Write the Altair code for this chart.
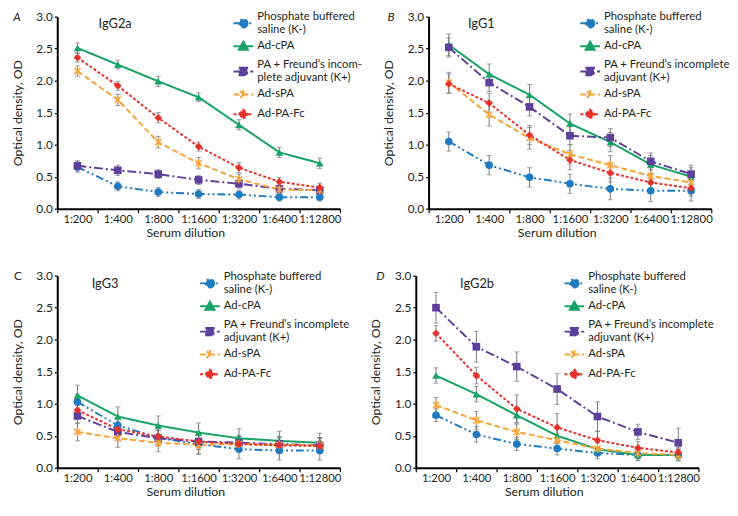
import altair as alt
import pandas as pd

FONT = "Lato"
TEXT = "#231f20"

dilutions = ["1:200", "1:400", "1:800", "1:1600", "1:3200", "1:6400", "1:12800"]
groups = [
    "Phosphate buffered saline (K-)",
    "Ad-cPA",
    "PA + Freund’s incomplete adjuvant (K+)",
    "Ad-sPA",
    "Ad-PA-Fc",
]

# ---- Panel A: IgG2a ----
a_pbs = [0.65, 0.35, 0.26, 0.23, 0.22, 0.18, 0.18]
a_cpa = [2.51, 2.25, 1.99, 1.74, 1.31, 0.88, 0.71]
a_freund = [0.67, 0.60, 0.54, 0.45, 0.39, 0.31, 0.29]
a_spa = [2.15, 1.70, 1.04, 0.71, 0.46, 0.30, 0.29]
a_fc = [2.36, 1.92, 1.42, 0.97, 0.64, 0.42, 0.33]
a_pbs_err = [0.08, 0.07, 0.07, 0.07, 0.07, 0.06, 0.06]
a_cpa_err = [0.08, 0.07, 0.08, 0.07, 0.08, 0.08, 0.08]
a_freund_err = [0.08, 0.08, 0.07, 0.07, 0.07, 0.06, 0.06]
a_spa_err = [0.08, 0.09, 0.09, 0.09, 0.08, 0.06, 0.06]
a_fc_err = [0.07, 0.07, 0.08, 0.07, 0.08, 0.07, 0.07]

# ---- Panel B: IgG1 ----
b_pbs = [1.05, 0.68, 0.49, 0.39, 0.31, 0.28, 0.28]
b_cpa = [2.56, 2.10, 1.78, 1.33, 1.04, 0.69, 0.50]
b_freund = [2.52, 1.97, 1.59, 1.14, 1.11, 0.74, 0.54]
b_spa = [1.97, 1.47, 1.10, 0.85, 0.68, 0.51, 0.41]
b_fc = [1.95, 1.65, 1.15, 0.76, 0.56, 0.41, 0.32]
b_pbs_err = [0.15, 0.15, 0.15, 0.15, 0.17, 0.17, 0.16]
b_cpa_err = [0.17, 0.16, 0.16, 0.15, 0.15, 0.14, 0.14]
b_freund_err = [0.15, 0.14, 0.14, 0.14, 0.14, 0.13, 0.14]
b_spa_err = [0.16, 0.18, 0.17, 0.15, 0.15, 0.13, 0.13]
b_fc_err = [0.15, 0.15, 0.15, 0.15, 0.14, 0.13, 0.12]

# ---- Panel C: IgG3 ----
c_pbs = [1.03, 0.66, 0.47, 0.37, 0.29, 0.27, 0.27]
c_cpa = [1.13, 0.80, 0.66, 0.55, 0.46, 0.42, 0.39]
c_freund = [0.81, 0.56, 0.46, 0.41, 0.39, 0.37, 0.35]
c_spa = [0.56, 0.46, 0.39, 0.36, 0.37, 0.36, 0.35]
c_fc = [0.90, 0.60, 0.49, 0.41, 0.37, 0.35, 0.34]
c_pbs_err = [0.12, 0.12, 0.12, 0.16, 0.15, 0.15, 0.15]
c_cpa_err = [0.16, 0.15, 0.15, 0.15, 0.15, 0.15, 0.15]
c_freund_err = [0.12, 0.12, 0.12, 0.12, 0.12, 0.12, 0.12]
c_spa_err = [0.14, 0.14, 0.14, 0.14, 0.12, 0.12, 0.12]
c_fc_err = [0.12, 0.12, 0.12, 0.12, 0.12, 0.12, 0.12]

# ---- Panel D: IgG2b ----
d_pbs = [0.82, 0.52, 0.37, 0.30, 0.23, 0.20, 0.20]
d_cpa = [1.44, 1.15, 0.82, 0.50, 0.29, 0.20, 0.20]
d_freund = [2.50, 1.89, 1.58, 1.23, 0.80, 0.56, 0.39]
d_spa = [0.98, 0.74, 0.56, 0.43, 0.30, 0.23, 0.20]
d_fc = [2.10, 1.44, 0.92, 0.63, 0.43, 0.31, 0.24]
d_pbs_err = [0.10, 0.12, 0.10, 0.10, 0.09, 0.08, 0.09]
d_cpa_err = [0.12, 0.12, 0.12, 0.12, 0.10, 0.09, 0.09]
d_freund_err = [0.24, 0.24, 0.23, 0.24, 0.23, 0.12, 0.23]
d_spa_err = [0.12, 0.14, 0.12, 0.10, 0.09, 0.08, 0.08]
d_fc_err = [0.12, 0.13, 0.22, 0.22, 0.14, 0.10, 0.08]

# ---- styles ----
colors = ["#1f7bc1", "#17a266", "#5e3f9c", "#f6a53c", "#e6322b"]
dashes = [[8, 3, 2, 3, 2, 3], [1, 0], [9, 3, 2, 3], [6, 3], [3, 2]]
marker_shapes = ["circle", "triangle-up", "square",
                 "M-0.8,-0.8L0.8,0.8M-0.8,0.8L0.8,-0.8M0,-1.1L0,1.1", "diamond"]
marker_filled = [True, True, True, False, True]

# legend symbol = short line + marker (unit = 10 px); two-line labels get the
# symbol lowered so it sits between both lines
S = 0.68
legend_paths = [
    f"M-1,{S}L1,{S}M0.42,{S}A0.42,0.42,0,1,1,-0.42,{S}A0.42,0.42,0,1,1,0.42,{S}Z",
    "M-1,0L1,0M0,-0.46L0.46,0.36L-0.46,0.36Z",
    f"M-1,{S}L1,{S}M-0.38,{S-0.38}L0.38,{S-0.38}L0.38,{S+0.38}L-0.38,{S+0.38}Z",
    "M-1,0L1,0M-0.33,-0.33L0.33,0.33M-0.33,0.33L0.33,-0.33M0,-0.46L0,0.46",
    "M-1,0L1,0M0,-0.46L0.46,0L0,0.46L-0.46,0Z",
]

lines_std = [["Phosphate buffered", "saline (K-)"], ["Ad-cPA"],
             ["PA + Freund’s incomplete", "adjuvant (K+)"], ["Ad-sPA"], ["Ad-PA-Fc"]]
lines_a = [["Phosphate buffered", "saline (K-)"], ["Ad-cPA"],
           ["PA + Freund’s incom-", "plete adjuvant (K+)"], ["Ad-sPA"], ["Ad-PA-Fc"]]


def label_expr(lines):
    expr = ""
    for g, ls in zip(groups, lines):
        arr = "[" + ",".join("'" + l + "'" for l in ls) + "]"
        expr += f"datum.label == '{g}' ? {arr} : "
    return expr + "datum.label"


W, H = 287, 195


def panel(means, errs, name, letter, italic, leg_x, leg_y, igg_x, letter_x, lines):
    rows = []
    for g, m, e in zip(groups, means, errs):
        for d, mv, ev in zip(dilutions, m, e):
            rows.append({"group": g, "dil": d, "od": mv, "lo": mv - ev, "hi": mv + ev})
    df = pd.DataFrame(rows)
    base = alt.Chart(df)

    xenc = alt.X("dil:N", sort=dilutions,
                 scale=alt.Scale(domain=dilutions, paddingInner=0, paddingOuter=0),
                 axis=alt.Axis(title="Serum dilution", tickBand="extent", labelAngle=0,
                               labelFontSize=11.5, tickSize=4, labelPadding=1,
                               titlePadding=2, titleX=130))
    yaxis = alt.Axis(title="Optical density, OD", values=[0, 0.5, 1, 1.5, 2, 2.5, 3],
                     format=".1f", tickSize=3, labelPadding=2, titlePadding=12)
    yscale = alt.Scale(domain=[0, 3], nice=False)
    yenc = alt.Y("od:Q", scale=yscale, axis=yaxis)

    layers = []
    layers.append(base.mark_errorbar(ticks=True, size=5, thickness=1, color="#7a7a7a").encode(
        x=xenc, y=alt.Y("lo:Q", scale=yscale, axis=yaxis), y2="hi:Q"))
    for g, c, dsh in zip(groups, colors, dashes):
        layers.append(base.transform_filter(alt.datum.group == g).mark_line(
            color=c, strokeDash=dsh, strokeWidth=2).encode(x=xenc, y=yenc))
    for g, c, shp, fl in zip(groups, colors, marker_shapes, marker_filled):
        layers.append(base.transform_filter(alt.datum.group == g).mark_point(
            shape=shp, filled=fl, color=c, size=60, opacity=1, strokeWidth=1.5).encode(x=xenc, y=yenc))

    leg = alt.Legend(title=None, orient="none", legendX=leg_x, legendY=leg_y, direction="vertical",
                     labelExpr=label_expr(lines), labelFont=FONT, labelFontSize=11.5, labelColor=TEXT,
                     labelLimit=400, symbolSize=400, symbolStrokeWidth=2, rowPadding=0,
                     labelOffset=3, padding=0)
    layers.append(base.transform_filter("false").mark_point(filled=True, opacity=1).encode(
        x=xenc, y=yenc,
        fill=alt.Fill("group:N", scale=alt.Scale(domain=groups, range=colors), legend=leg),
        stroke=alt.Stroke("group:N", scale=alt.Scale(domain=groups, range=colors), legend=leg),
        shape=alt.Shape("group:N", scale=alt.Scale(domain=groups, range=legend_paths), legend=leg),
        strokeDash=alt.StrokeDash("group:N", scale=alt.Scale(domain=groups, range=dashes), legend=leg),
    ))
    layers.append(alt.Chart(pd.DataFrame({"t": [name]})).mark_text(
        font=FONT, fontSize=13, align="left", baseline="middle", color=TEXT).encode(
        text="t:N", x=alt.value(igg_x), y=alt.value(8)))
    layers.append(alt.Chart(pd.DataFrame({"t": [letter]})).mark_text(
        font=FONT, fontSize=12, fontStyle="italic" if italic else "normal",
        align="center", baseline="middle", color=TEXT).encode(
        text="t:N", x=alt.value(letter_x), y=alt.value(0)))
    return alt.layer(*layers).properties(width=W, height=H)


pA = panel([a_pbs, a_cpa, a_freund, a_spa, a_fc],
           [a_pbs_err, a_cpa_err, a_freund_err, a_spa_err, a_fc_err],
           "IgG2a", "A", True, 178, -11, 42, -41, lines_a)
pB = panel([b_pbs, b_cpa, b_freund, b_spa, b_fc],
           [b_pbs_err, b_cpa_err, b_freund_err, b_spa_err, b_fc_err],
           "IgG1", "B", True, 153, -11, 40, -38, lines_std)
pC = panel([c_pbs, c_cpa, c_freund, c_spa, c_fc],
           [c_pbs_err, c_cpa_err, c_freund_err, c_spa_err, c_fc_err],
           "IgG3", "C", False, 144, -10, 35, -40, lines_std)
pD = panel([d_pbs, d_cpa, d_freund, d_spa, d_fc],
           [d_pbs_err, d_cpa_err, d_freund_err, d_spa_err, d_fc_err],
           "IgG2b", "D", True, 150, -10, 45, -36, lines_std)

ind = dict(fill="independent", stroke="independent", shape="independent", strokeDash="independent")
row1 = alt.hconcat(pA, pB, spacing=20).resolve_scale(**ind)
row2 = alt.hconcat(pC, pD, spacing=20).resolve_scale(**ind)

chart = alt.vconcat(row1, row2, spacing=27).resolve_scale(**ind).properties(
    padding={"left": 3, "top": -6, "right": 0, "bottom": 0}
).configure_view(stroke=None).configure_axis(
    domainColor="black", domainWidth=2, tickColor="black", tickWidth=1.2,
    labelFont=FONT, labelFontSize=12, labelColor=TEXT,
    titleFont=FONT, titleFontSize=12.5, titleFontWeight="normal", titleColor=TEXT,
    grid=False,
)

chart.save("out.html", embed_options={"renderer": "svg", "actions": False})
